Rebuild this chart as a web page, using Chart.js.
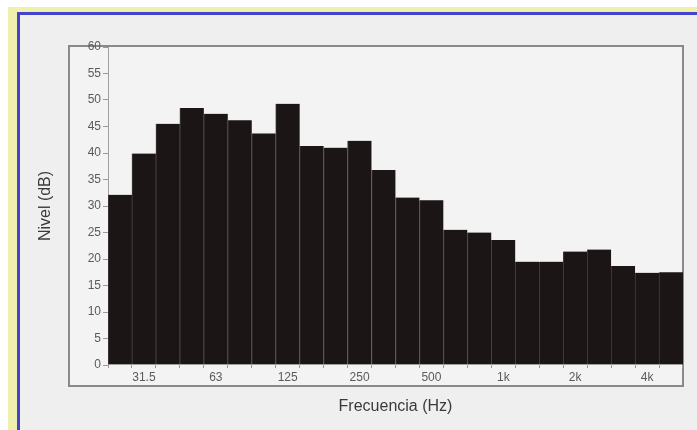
<!DOCTYPE html>
<html>
<head>
<meta charset="utf-8">
<script src="https://cdn.jsdelivr.net/npm/chart.js@4.4.1/dist/chart.umd.min.js"></script>
<style>
html,body{margin:0;padding:0;background:#ffffff;}
#wrap{width:697px;height:430px;position:relative;}
</style>
</head>
<body>
<div id="wrap"><canvas id="c" width="697" height="430"></canvas></div>
<script>
// Third-octave band centre frequencies (Hz)
const bands = ['25','31.5','40','50','63','80','100','125','160','200','250','315','400','500','630','800','1k','1.25k','1.6k','2k','2.5k','3.15k','4k','5k'];
// Level per band (dB)
const levels = [32.1, 39.9, 45.5, 48.5, 47.4, 46.2, 43.7, 49.3, 41.3, 41.0, 42.3, 36.8, 31.6, 31.1, 25.5, 25.0, 23.6, 19.5, 19.5, 21.4, 21.8, 18.7, 17.4, 17.5];
// Bands that carry a label on the x axis
const shownLabels = ['31.5','63','125','250','500','1k','2k','4k'];
const yTitle = 'Nivel (dB)';
const xTitle = 'Frecuencia (Hz)';

const tickFont = {family: "'Liberation Sans Narrow', 'Liberation Sans', sans-serif", size: 12};
const titleFont = {family: "'Liberation Sans', sans-serif", size: 16};

const frame = {
  id: 'frame',
  beforeDraw(chart) {
    const ctx = chart.ctx;
    ctx.save();
    ctx.fillStyle = '#ffffff';
    ctx.fillRect(0, 0, 697, 430);
    ctx.fillStyle = '#efefae';
    ctx.fillRect(8, 7, 689, 423);
    ctx.fillStyle = '#4343cf';
    ctx.fillRect(17, 12, 680, 418);
    ctx.fillStyle = '#efefef';
    ctx.fillRect(20, 15, 677, 415);
    // inner box
    ctx.fillStyle = '#f3f3f3';
    ctx.fillRect(68, 45, 615, 341);
    ctx.strokeStyle = '#8a8a8a';
    ctx.lineWidth = 2;
    ctx.strokeRect(69, 46, 614, 340);
    ctx.restore();
  }
};

new Chart(document.getElementById('c'), {
  type: 'bar',
  data: {
    labels: bands,
    datasets: [{
      data: levels,
      backgroundColor: '#1c1515',
      borderColor: '#453f3f',
      borderWidth: {left: 1, right: 0, top: 0, bottom: 0},
      borderSkipped: false,
      barPercentage: 1,
      categoryPercentage: 1
    }]
  },
  options: {
    responsive: false,
    animation: false,
    devicePixelRatio: 1,
    layout: {padding: {left: 36, right: 14, top: 47, bottom: 14}},
    plugins: {legend: {display: false}, tooltip: {enabled: false}},
    scales: {
      x: {
        grid: {display: true, drawOnChartArea: false, offset: true, tickLength: 3, color: '#9a9a9a'},
        border: {display: false},
        ticks: {
          autoSkip: false, maxRotation: 0, padding: 2,
          color: '#5a5a5a', font: tickFont,
          callback: function(v) { const l = this.getLabelForValue(v); return shownLabels.includes(l) ? l : ''; }
        },
        title: {display: true, text: xTitle, color: '#3a3a3a', font: titleFont, padding: {top: 4, bottom: 0}},
        afterFit(s) { s.height = 430 - 365 - 14; }
      },
      y: {
        min: 0, max: 60,
        grid: {display: true, drawOnChartArea: false, tickLength: 5, color: '#9a9a9a'},
        border: {display: true, color: '#a0a0a0', width: 1},
        ticks: {stepSize: 5, padding: 2, color: '#5a5a5a', font: tickFont},
        title: {display: true, text: yTitle, color: '#3a3a3a', font: titleFont, padding: {top: 0, bottom: 10}},
        afterFit(s) { s.width = 108 - 36; }
      }
    }
  },
  plugins: [frame]
});
</script>
</body>
</html>
